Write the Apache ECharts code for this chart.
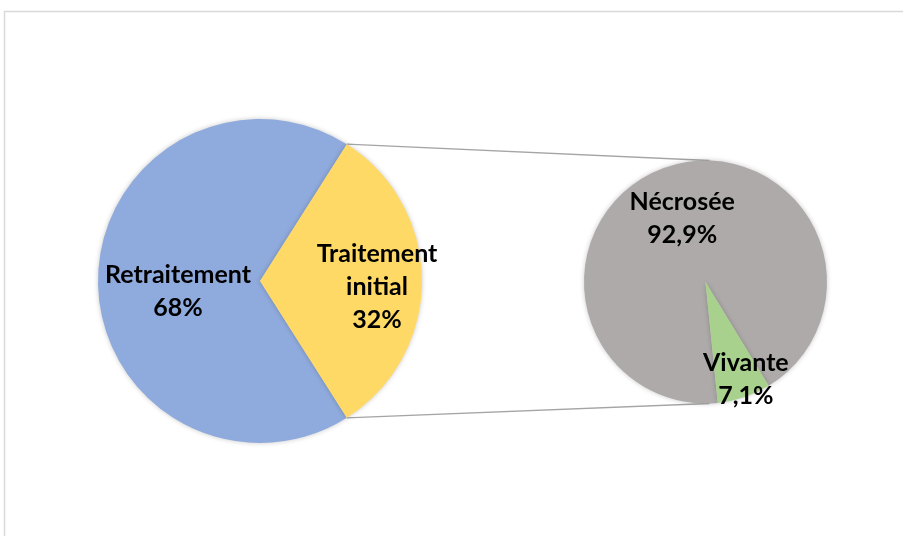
<!DOCTYPE html>
<html>
<head>
<meta charset="utf-8">
<script src="https://cdn.jsdelivr.net/npm/echarts@6/dist/echarts.min.js"></script>
<style>html,body{margin:0;padding:0;background:#fff}#c{width:903px;height:536px}</style>
</head>
<body>
<div id="c"></div>
<script>
// Data
const mainCategories = ["Retraitement", "Traitement initial"];
const mainValues = [68, 32];
const subCategories = ["Nécrosée", "Vivante"];
const subValues = [92.9, 7.1];

// Layout
const C1 = [260, 281], R1 = 162;
const C2 = [705.5, 282], R2 = 121.5;
const colorsMain = ['#8FAADC', '#FFD966'];
const colorsSub = ['#AEAAAA', '#A9D18E'];
const FONT = 'Lato';

const total1 = mainValues.reduce((a, b) => a + b, 0);
const half = 360 * mainValues[1] / total1 / 2; // yellow half-angle
const toRad = d => d * Math.PI / 180;
const topPt = [C1[0] + R1 * Math.cos(toRad(half)), C1[1] - R1 * Math.sin(toRad(half))];
const botPt = [C1[0] + R1 * Math.cos(toRad(half)), C1[1] + R1 * Math.sin(toRad(half))];

const fmtNum = v => String(v).replace('.', ',');
const labelStyle = {
  show: true, position: 'inside', color: '#000', fontFamily: FONT,
  fontWeight: 'bold', fontSize: 25, lineHeight: 33
};
const shadow = { shadowBlur: 5, shadowColor: 'rgba(0,0,0,0.22)' };

const chart = echarts.init(document.getElementById('c'));
chart.setOption({
  animation: false,
  backgroundColor: '#fff',
  graphic: [
    { type: 'rect', z: -10, shape: { x: 4.5, y: 11.5, width: 1200, height: 1200 },
      style: { fill: 'none', stroke: '#D9D9D9', lineWidth: 1.5 } },
    { type: 'line', z: -5, shape: { x1: topPt[0], y1: topPt[1], x2: C2[0] + 4, y2: C2[1] - R2 },
      style: { stroke: '#A5A5A5', lineWidth: 1.3 } },
    { type: 'line', z: -5, shape: { x1: botPt[0], y1: botPt[1], x2: C2[0] + 4, y2: C2[1] + R2 },
      style: { stroke: '#A5A5A5', lineWidth: 1.3 } }
  ],
  series: [
    {
      type: 'pie', center: C1, radius: R1, clockwise: false, startAngle: half,
      labelLine: { show: false },
      itemStyle: Object.assign({ borderWidth: 0 }, shadow),
      emphasis: { disabled: true },
      label: Object.assign({}, labelStyle, {
        formatter: p => p.name.replace(' ', '\n') + '\n' + p.value + '%'
      }),
      labelLayout: p => p.dataIndex === 1 ? { dx: 33, dy: 6 } : { dx: 2, dy: 10 },
      data: mainCategories.map((n, i) => ({ name: n, value: mainValues[i], itemStyle: { color: colorsMain[i] } }))
    },
    {
      type: 'pie', center: C2, radius: R2, clockwise: false, startAngle: -58.65,
      labelLine: { show: false },
      itemStyle: Object.assign({ borderWidth: 0 }, shadow),
      emphasis: { disabled: true },
      label: Object.assign({}, labelStyle, {
        formatter: p => p.name + '\n' + fmtNum(p.value) + '%'
      }),
      labelLayout: p => p.dataIndex === 1 ? { dx: 20, dy: 37 } : { dx: -3, dy: -3 },
      data: subCategories.map((n, i) => ({ name: n, value: subValues[i], itemStyle: { color: colorsSub[i] } }))
    }
  ]
});
</script>
</body>
</html>
